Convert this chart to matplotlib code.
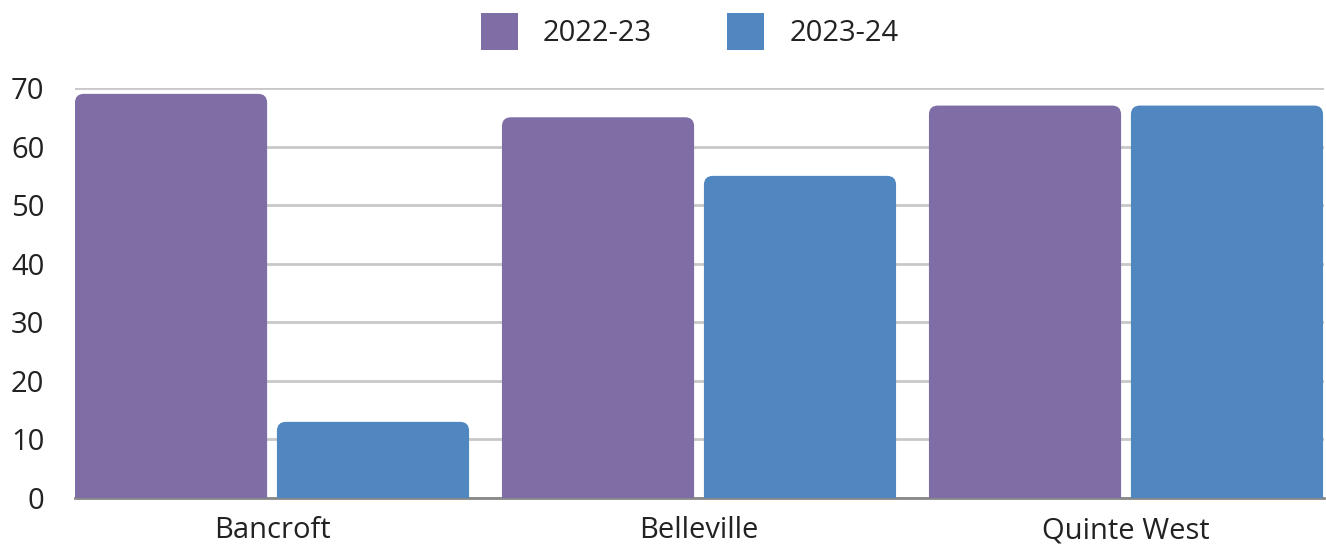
import matplotlib.pyplot as plt
from matplotlib.patches import FancyBboxPatch, Patch
import numpy as np

plt.rcParams['font.family'] = ['Open Sans', 'DejaVu Sans']

# data
categories = ['Bancroft', 'Belleville', 'Quinte West']
series_names = ['2022-23', '2023-24']
vals_2022 = [69, 65, 67]
vals_2023 = [13, 55, 67]
colors = ['#7f6da6', '#5087c0']
yticks = [0, 10, 20, 30, 40, 50, 60, 70]

fig = plt.figure(figsize=(13.26, 5.44), dpi=100)
ax = fig.add_axes([75 / 1326, 1 - 498 / 544, 1249 / 1326, 410 / 544])

x = np.arange(len(categories))
width = 0.45
offset = 0.2365
ax.set_xlim(-0.4614, 2.4637)
ax.set_ylim(0, 70)

# rounding radius in pixels -> data units
rad_px = 9
rx = rad_px / 427.0
ry = rad_px / (410 / 70.0)

for vals, col, sign in [(vals_2022, colors[0], -1), (vals_2023, colors[1], 1)]:
    for xi, v in zip(x, vals):
        left = xi + sign * offset - width / 2
        p = FancyBboxPatch((left, -ry), width, v + ry,
                           boxstyle='round,pad=0,rounding_size=%f' % rx,
                           mutation_aspect=ry / rx,
                           facecolor=col, edgecolor='none', zorder=3)
        ax.add_patch(p)

ax.set_yticks(yticks)
ax.set_xticks(x)
ax.set_xticklabels(categories)
ax.tick_params(axis='both', length=0, labelsize=21, colors='#222222')
ax.tick_params(axis='y', pad=22)
ax.tick_params(axis='x', pad=13)
ax.grid(axis='y', color='#c8c8c8', linewidth=2, zorder=0)
ax.set_axisbelow(True)
for s in ['top', 'right', 'left']:
    ax.spines[s].set_visible(False)
ax.spines['bottom'].set_color('#888888')
ax.spines['bottom'].set_linewidth(2)
ax.spines['bottom'].set_zorder(2)

handles = [Patch(facecolor=c, edgecolor='none') for c in colors]
fig.legend(handles, series_names, loc='upper center', bbox_to_anchor=(0.52, 1.025),
           ncol=2, frameon=False, fontsize=21, handlelength=1.27, handleheight=1.6,
           columnspacing=2.6, handletextpad=0.85, labelcolor='#222222')

fig.savefig('out.png', dpi=100)
